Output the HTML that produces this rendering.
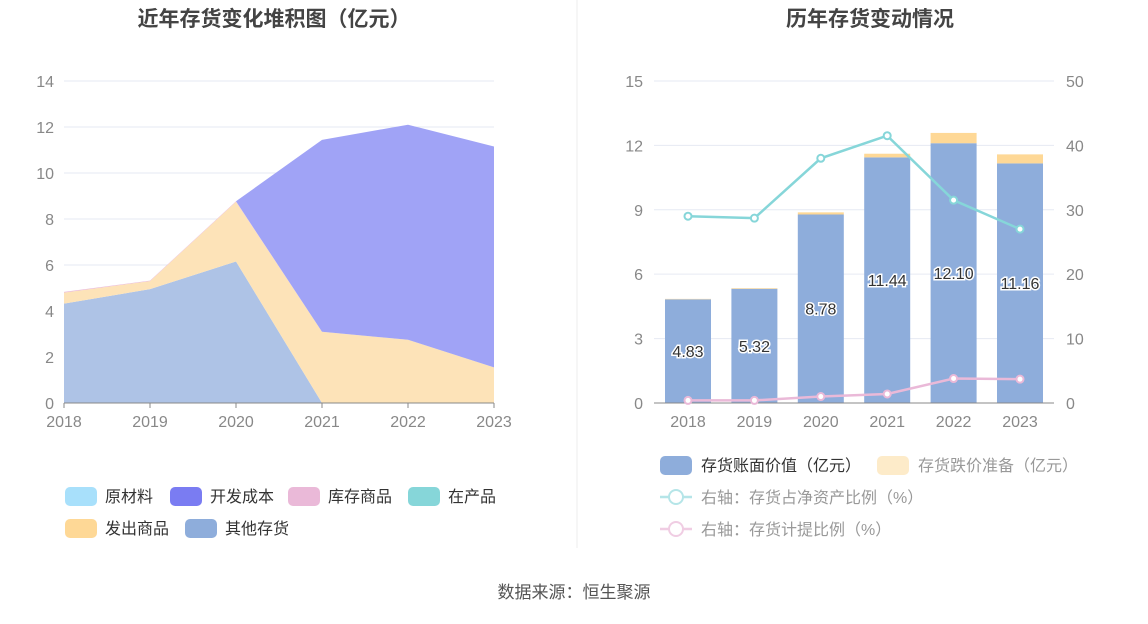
<!DOCTYPE html>
<html><head><meta charset="utf-8"><style>
body{margin:0;width:1148px;height:619px;background:#fff;overflow:hidden;font-family:"Liberation Sans","Noto Sans CJK SC",sans-serif}
svg text{font-family:"Liberation Sans","Noto Sans CJK SC",sans-serif}
</style></head><body>
<svg id="s" width="1148" height="619">
<text x="274" y="26" text-anchor="middle" font-size="21" font-weight="bold" fill="#444">近年存货变化堆积图（亿元）</text>
<text x="870" y="26" text-anchor="middle" font-size="21" font-weight="bold" fill="#444">历年存货变动情况</text>
<line x1="577" y1="0" x2="577" y2="548" stroke="#eee"/>
<text x="574" y="598" text-anchor="middle" font-size="17" fill="#555">数据来源：恒生聚源</text>
<g id="L"></g><g id="R"></g>
</svg>
<script>
const years=["2018","2019","2020","2021","2022","2023"];
const other=[4.32,4.95,6.15,0,0,0];
const shipped=[0.48,0.35,2.6,3.1,2.75,1.55];
const stock=[0.03,0.02,0.02,0,0,0];
const devCost=[0,0,0,8.34,9.35,9.6];
const leftTicks=[0,2,4,6,8,10,12,14];
const bookValue=[4.83,5.32,8.78,11.44,12.10,11.16];
const reserve=[0.02,0.03,0.1,0.17,0.48,0.42];
const ratioNet=[29.0,28.7,38.0,41.5,31.5,27.0];
const ratioProv=[0.4,0.4,1.0,1.4,3.8,3.7];
const rightTicksL=[0,3,6,9,12,15];
const rightTicksR=[0,10,20,30,40,50];
const NS="http://www.w3.org/2000/svg";
function mk(p,t,a){const e=document.createElementNS(NS,t);for(const k in a)e.setAttribute(k,a[k]);p.appendChild(e);return e;}
const L=document.getElementById('L');
const lx=i=>64+i*86, ly=v=>403-v*23;
leftTicks.forEach(t=>{
 const g=mk(L,'line',{x1:64,x2:494,y1:ly(t),y2:ly(t),stroke:'#e6eaf3'});
 
 
 const tx=mk(L,'text',{x:54,y:ly(t)+6,'text-anchor':'end','font-size':16,fill:'#888'});tx.textContent=t;
 
 
});
const series=[[other,'#aec3e6','area-other'],[shipped,'#fde3b8','area-shipped'],[stock,'#eab9d8','area-stock'],[devCost,'#a0a3f6','area-dev-cost']];
let base=years.map(()=>0);
series.forEach(([vals,col,nm])=>{
 const top=base.map((b,i)=>b+vals[i]);
 let d='M'+top.map((v,i)=>lx(i)+','+ly(v)).join('L');
 for(let i=years.length-1;i>=0;i--)d+='L'+lx(i)+','+ly(base[i]);
 const p=mk(L,'path',{d:d+'Z',fill:col});
 
 
 base=top;
});
mk(L,'line',{x1:64,x2:494,y1:403,y2:403,stroke:'#888'});
years.forEach((y,i)=>{mk(L,'line',{x1:lx(i),x2:lx(i),y1:403,y2:408,stroke:'#888'});
 const t=mk(L,'text',{x:lx(i),y:427,'text-anchor':'middle','font-size':16,fill:'#888'});t.textContent=y;
 
 });
const leg=[['原材料','#a8e0fb',65,496],['开发成本','#7a7cf2',170,496],['库存商品','#eab9d8',288,496],['在产品','#86d6d9',408,496],['发出商品','#fed896',65,528],['其他存货','#8eaddb',185,528]];
leg.forEach(([n,c,x,y])=>{const r=mk(L,'rect',{x:x,y:y-9,width:32,height:19,rx:5,fill:c});
 
 
 const t=mk(L,'text',{x:x+40,y:y+6,'font-size':16,fill:'#333'});t.textContent=n;
 
 });
const R=document.getElementById('R');
const rx=i=>688+i*66.4, ry=v=>403-v*21.47, ry2=v=>403-v*6.44;
rightTicksL.forEach((t,k)=>{
 const g=mk(R,'line',{x1:654,x2:1054,y1:ry(t),y2:ry(t),stroke:'#e6eaf3'});
 
 
 const a=mk(R,'text',{x:643,y:ry(t)+6,'text-anchor':'end','font-size':16,fill:'#888'});a.textContent=t;
 
 
 const b=mk(R,'text',{x:1066,y:ry2(rightTicksR[k])+6,'font-size':16,fill:'#888'});b.textContent=rightTicksR[k];
 
 
});
years.forEach((y,i)=>{
 const b=mk(R,'rect',{x:rx(i)-23,y:ry(bookValue[i]),width:46,height:403-ry(bookValue[i]),fill:'#8eaddb'});
 
 
 const r=mk(R,'rect',{x:rx(i)-23,y:ry(bookValue[i]+reserve[i]),width:46,height:ry(bookValue[i])-ry(bookValue[i]+reserve[i]),fill:'#fed896'});
 
 
 const t=mk(R,'text',{x:rx(i),y:ry(bookValue[i]/2)+6,'text-anchor':'middle','font-size':16,fill:'#333',stroke:'#fff','stroke-width':3,'paint-order':'stroke'});t.textContent=bookValue[i].toFixed(2);
 
 
 const x=mk(R,'text',{x:rx(i),y:427,'text-anchor':'middle','font-size':16,fill:'#888'});x.textContent=y;
 
 
});
mk(R,'line',{x1:654,x2:1054,y1:403,y2:403,stroke:'#888'});
[[ratioNet,'#86d6d9','line-net-asset-ratio'],[ratioProv,'#eab9d8','line-provision-ratio']].forEach(([v,c,n])=>{
 const p=mk(R,'polyline',{points:v.map((d,i)=>rx(i)+','+ry2(d)).join(' '),fill:'none',stroke:c,'stroke-width':2.5});
 
 
 v.forEach((d,i)=>{const m=mk(R,'circle',{cx:rx(i),cy:ry2(d),r:3.5,fill:'#fff',stroke:c,'stroke-width':2});
  
  });
});
const rl=[['存货账面价值（亿元）','#8eaddb',660,465,'rect','#333'],['存货跌价准备（亿元）','#fdebc9',877,465,'rect','#999'],['右轴：存货占净资产比例（%）','#b5e5e8',660,497,'line','#999'],['右轴：存货计提比例（%）','#f0cde3',660,529,'line','#999']];
rl.forEach(([n,c,x,y,k,tc])=>{
 if(k==='rect'){const r=mk(R,'rect',{x:x,y:y-9,width:32,height:19,rx:5,fill:c});
  
  }
 else{mk(R,'line',{x1:x,x2:x+32,y1:y,y2:y,stroke:c,'stroke-width':2.5});
  const ci=mk(R,'circle',{cx:x+16,cy:y,r:7,fill:'#fff',stroke:c,'stroke-width':2});
  
  }
 const t=mk(R,'text',{x:x+41,y:y+6,'font-size':16,fill:tc});t.textContent=n;
 
 
});
</script>
</body></html>
